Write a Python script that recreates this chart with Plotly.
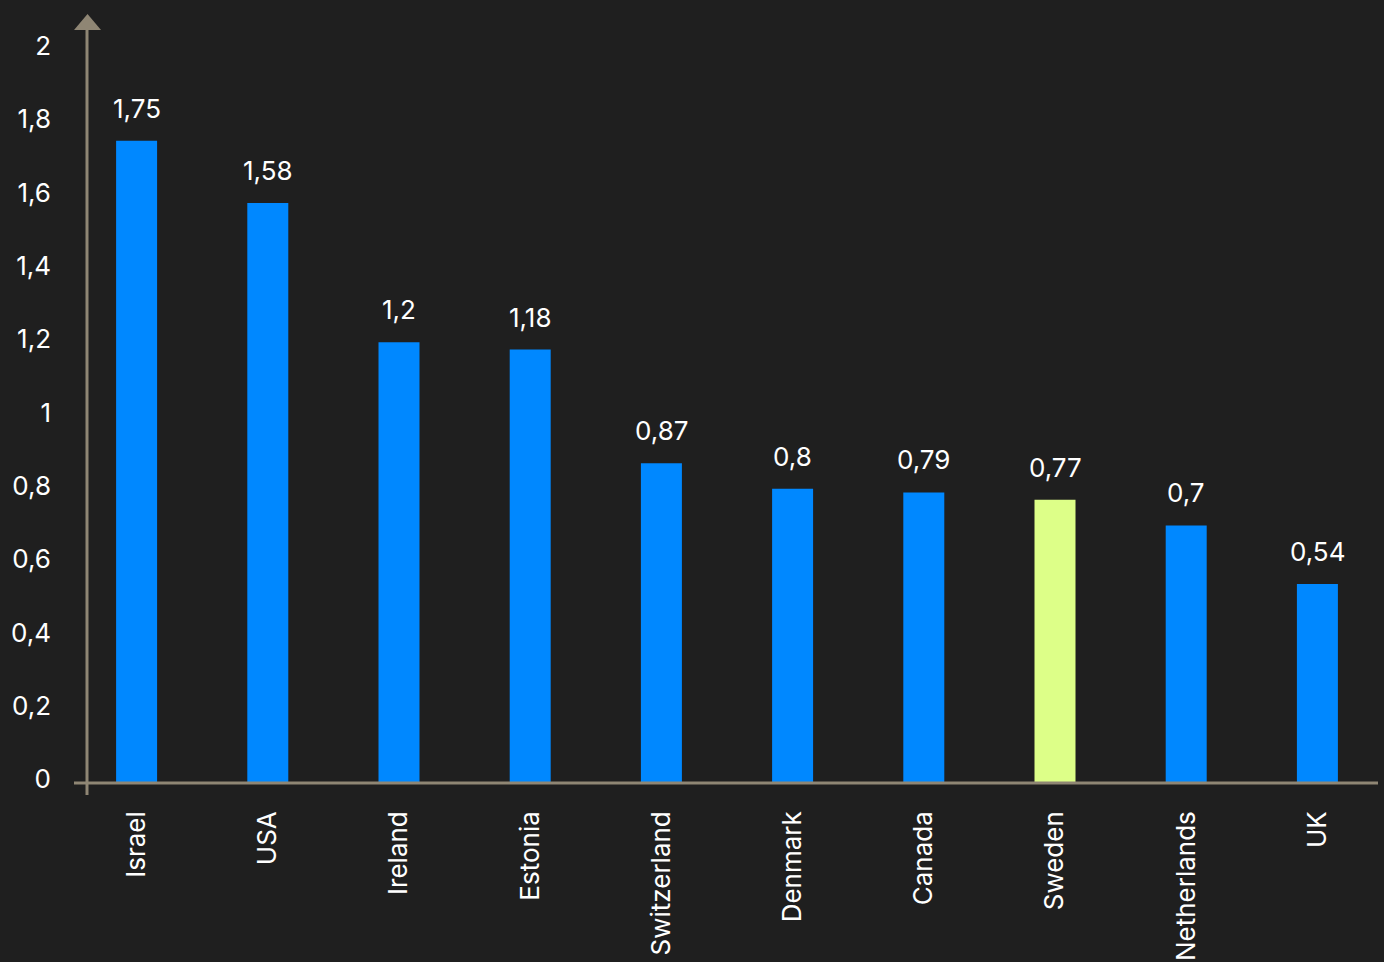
import plotly.graph_objects as go

countries = ["Israel", "USA", "Ireland", "Estonia", "Switzerland",
             "Denmark", "Canada", "Sweden", "Netherlands", "UK"]
values = [1.75, 1.58, 1.2, 1.18, 0.87, 0.8, 0.79, 0.77, 0.7, 0.54]
value_labels = ["1,75", "1,58", "1,2", "1,18", "0,87",
                "0,8", "0,79", "0,77", "0,7", "0,54"]
y_ticks = [0, 0.2, 0.4, 0.6, 0.8, 1, 1.2, 1.4, 1.6, 1.8, 2]
y_tick_labels = ["0", "0,2", "0,4", "0,6", "0,8", "1",
                 "1,2", "1,4", "1,6", "1,8", "2"]

BLUE = "#0088FF"
HIGHLIGHT = "#DDFF88"
AXIS = "#8F8674"
BG = "#1F1F1F"
FONT = "Inter"
FS = 26

colors = [HIGHLIGHT if c == "Sweden" else BLUE for c in countries]

fig = go.Figure()
fig.add_trace(go.Bar(
    x=countries, y=values, marker=dict(color=colors, line=dict(width=0)),
    width=0.3125, hoverinfo="skip",
))

# value labels above each bar
for c, v, t in zip(countries, values, value_labels):
    fig.add_annotation(x=c, y=v, text=t, showarrow=False, yanchor="bottom",
                       yshift=15, font=dict(family=FONT, size=FS, color="white"))

# axis lines with arrowhead on the vertical axis
fig.add_shape(type="line", xref="paper", yref="paper", xsizemode="pixel",
              ysizemode="pixel", xanchor=0, yanchor=0,
              x0=16, x1=16, y0=-13, y1=753,
              line=dict(color=AXIS, width=3))
fig.add_shape(type="line", xref="paper", yref="paper", xsizemode="pixel",
              ysizemode="pixel", xanchor=0, yanchor=0,
              x0=3, x1=1307, y0=-1, y1=-1,
              line=dict(color=AXIS, width=3))
fig.add_shape(type="path", xref="paper", yref="paper", xsizemode="pixel",
              ysizemode="pixel", xanchor=0, yanchor=1,
              path="M 3,19 L 30,19 L 16.5,35 Z",
              fillcolor=AXIS, line=dict(width=0))

fig.update_layout(
    width=1384, height=962,
    margin=dict(l=71, r=1, t=49, b=180),
    paper_bgcolor=BG, plot_bgcolor=BG,
    showlegend=False,
    font=dict(family=FONT, size=FS, color="white"),
    xaxis=dict(range=[-0.5, 9.5], showgrid=False, zeroline=False,
               showline=False, tickangle=-90, ticks="",
               ticklabelstandoff=23,
               tickfont=dict(family=FONT, size=FS, color="white")),
    yaxis=dict(range=[0, 2], showgrid=False, zeroline=False, showline=False,
               tickvals=y_ticks, ticktext=y_tick_labels, ticks="",
               ticklabelstandoff=19, ticklabelshift=-3,
               tickfont=dict(family=FONT, size=FS, color="white")),
)

fig.write_html("out.html")
